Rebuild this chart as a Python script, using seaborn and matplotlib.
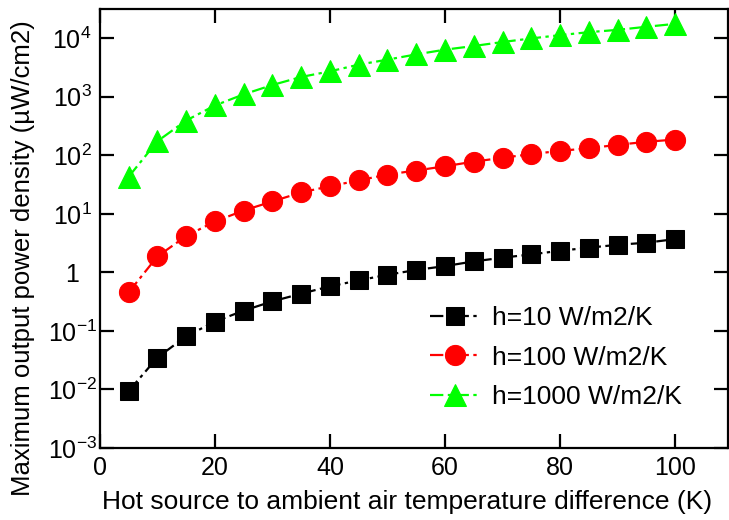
"""Max output power density vs. hot-source/ambient temperature difference, log-scale."""

import matplotlib
matplotlib.use("Agg")
import matplotlib.pyplot as plt
import pandas as pd
import seaborn as sns

# values
delta_t = [5, 10, 15, 20, 25, 30, 35, 40, 45, 50, 55, 60, 65, 70, 75, 80, 85, 90, 95, 100]
p_h10 = [0.0094, 0.035, 0.081, 0.144, 0.222, 0.32, 0.433, 0.577, 0.73, 0.91,
         1.1, 1.28, 1.54, 1.78, 2.03, 2.34, 2.64, 2.96, 3.21, 3.7]
p_h100 = [0.456, 1.87, 4.17, 7.4, 11.4, 16.3, 23.2, 29.7, 37.2, 47,
          55, 65, 78, 90.6, 105, 119, 132, 151, 170, 186]
p_h1000 = [43, 174, 393, 710, 1100, 1590, 2180, 2720, 3540, 4310,
           5300, 6380, 7370, 8620, 9930, 11300, 12700, 13900, 15700, 17600]
labels = ["h=10 W/m2/K", "h=100 W/m2/K", "h=1000 W/m2/K"]
y_ticks = [1e-3, 1e-2, 1e-1, 1, 1e1, 1e2, 1e3, 1e4]
y_ticklabels = [r"$\mathregular{10^{-3}}$", r"$\mathregular{10^{-2}}$", r"$\mathregular{10^{-1}}$", "1",
                r"$\mathregular{10^{1}}$", r"$\mathregular{10^{2}}$", r"$\mathregular{10^{3}}$",
                r"$\mathregular{10^{4}}$"]
x_ticks = [0, 20, 40, 60, 80, 100]

sns.set_theme(style="ticks")
plt.rcParams.update(
    {
        "font.family": ["Liberation Sans", "DejaVu Sans"],
        "mathtext.fontset": "custom",
        "mathtext.rm": "Liberation Sans",
        "text.color": "black",
        "axes.labelcolor": "black",
        "axes.edgecolor": "black",
        "axes.linewidth": 1.6,
        "xtick.color": "black",
        "ytick.color": "black",
        "xtick.direction": "in",
        "ytick.direction": "in",
        "xtick.major.size": 10,
        "ytick.major.size": 10,
        "xtick.major.width": 1.6,
        "ytick.major.width": 1.6,
        "xtick.top": True,
        "ytick.right": True,
    }
)

df = pd.DataFrame({"dT": delta_t, "h10": p_h10, "h100": p_h100, "h1000": p_h1000})

fig = plt.figure(figsize=(7.29, 5.20), dpi=100)
ax = fig.add_axes([0.137, 0.1385, 0.8616, 0.8442])

dash = (0, (6, 2, 1.5, 2))
styles = [("h10", "#000000", "s", 13), ("h100", "#ff0000", "o", 14.5), ("h1000", "#00ff00", "^", 15.5)]
for (col, color, marker, ms), label in zip(styles, labels):
    sns.lineplot(data=df, x="dT", y=col, ax=ax, color=color, marker=marker, markersize=ms,
                 markeredgecolor=color, linestyle=dash, linewidth=1.6, label=label)

ax.set_yscale("log")
ax.set_ylim(1e-3, 3.16e4)
ax.set_xlim(0, 109.2)
ax.set_yticks(y_ticks)
ax.set_yticklabels(y_ticklabels)
ax.yaxis.set_minor_locator(matplotlib.ticker.NullLocator())
ax.set_xticks(x_ticks)
ax.tick_params(axis="both", labelsize=18, colors="black")
ax.tick_params(axis="x", pad=6)
ax.tick_params(axis="y", pad=20)
for t in ax.get_yticklabels():
    t.set_horizontalalignment("center")

ax.set_xlabel("Hot source to ambient air temperature difference (K)", fontsize=19)
ax.xaxis.set_label_coords(0.489, -0.095)
ax.set_ylabel("Maximum output power density (µW/cm2)", fontsize=18.5)
ax.yaxis.set_label_coords(-0.1035, 0.433)

ax.legend(loc="lower right", bbox_to_anchor=(0.965, 0.035), frameon=False, fontsize=19,
          handlelength=1.9, handletextpad=0.45, labelspacing=0.58)

fig.savefig("out.png", dpi=100)
